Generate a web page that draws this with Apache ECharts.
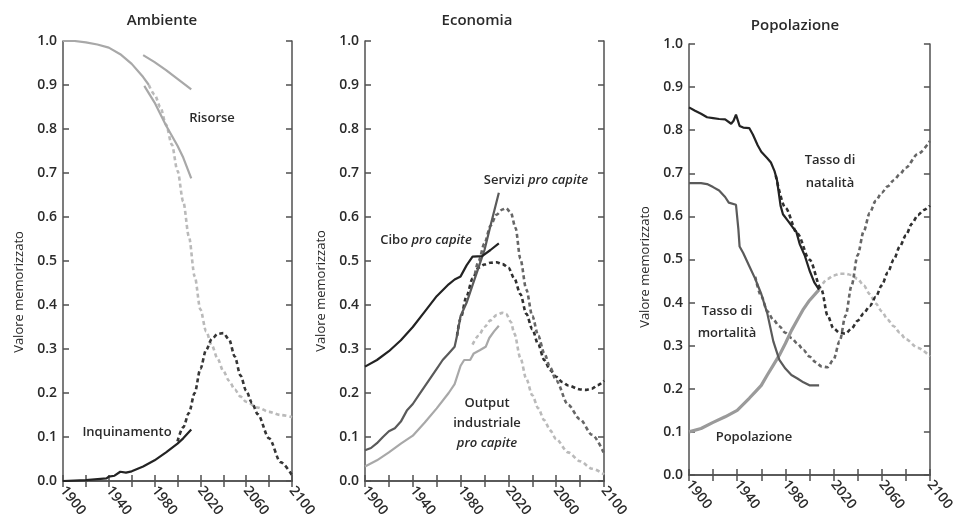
<!DOCTYPE html>
<html>
<head>
<meta charset="utf-8">
<script src="https://cdn.jsdelivr.net/npm/echarts@6/dist/echarts.min.js"></script>
<style>html,body{margin:0;padding:0;background:#fff}#c{width:957px;height:521px}</style>
</head>
<body>
<div id="c"></div>
<script>
// ---- Data ----
var panelTitles = ['Ambiente', 'Economia', 'Popolazione'];
var yTickLabels = ['0.0','0.1','0.2','0.3','0.4','0.5','0.6','0.7','0.8','0.9','1.0'];
var xLabelYears = [1900, 1940, 1980, 2020, 2060, 2100];

// Ambiente
var risorseModelHist = [[1900,1.0],[1910,1.0],[1920,0.997],[1930,0.992],[1940,0.985],[1950,0.97],[1960,0.948],[1970,0.918],[1975,0.9]];
var risorseModel = [[1975,0.9],[1980,0.878],[1985,0.85],[1990,0.81],[1995,0.765],[2000,0.705],[2005,0.635],[2010,0.555],[2015,0.465],[2020,0.39],[2025,0.34],[2030,0.308],[2035,0.278],[2040,0.25],[2045,0.228],[2050,0.208],[2055,0.192],[2060,0.18],[2070,0.167],[2080,0.157],[2090,0.15],[2100,0.145]];
var risorseData1 = [[1970,0.968],[1980,0.952],[1990,0.934],[2000,0.914],[2012,0.89]];
var risorseData2 = [[1971,0.898],[1980,0.86],[1990,0.808],[2000,0.762],[2005,0.735],[2012,0.688]];
var inquinamentoData = [[1900,0],[1920,0.002],[1938,0.006],[1940,0.01],[1945,0.012],[1950,0.021],[1955,0.019],[1960,0.022],[1970,0.033],[1980,0.047],[1990,0.065],[2000,0.085],[2005,0.097],[2012,0.117]];
var inquinamentoModel = [[2000,0.09],[2005,0.122],[2010,0.155],[2015,0.2],[2020,0.255],[2025,0.298],[2030,0.323],[2035,0.334],[2040,0.336],[2045,0.322],[2050,0.283],[2055,0.24],[2060,0.205],[2065,0.178],[2070,0.152],[2080,0.097],[2090,0.043],[2100,0.013]];

// Economia
var ciboData = [[1900,0.26],[1910,0.275],[1920,0.295],[1930,0.32],[1940,0.35],[1950,0.385],[1960,0.42],[1970,0.447],[1975,0.458],[1980,0.465],[1985,0.49],[1990,0.51],[1998,0.511],[2005,0.525],[2012,0.54]];
var ciboModel = [[1977,0.33],[1980,0.37],[1985,0.42],[1990,0.46],[1995,0.485],[2000,0.492],[2005,0.496],[2010,0.497],[2015,0.493],[2020,0.485],[2025,0.46],[2030,0.425],[2035,0.38],[2040,0.345],[2045,0.31],[2050,0.275],[2055,0.252],[2060,0.237],[2065,0.225],[2070,0.217],[2080,0.208],[2085,0.207],[2090,0.21],[2095,0.218],[2100,0.228]];
var serviziData = [[1900,0.07],[1905,0.075],[1910,0.086],[1915,0.1],[1920,0.113],[1925,0.12],[1930,0.135],[1935,0.16],[1940,0.175],[1945,0.195],[1950,0.215],[1955,0.235],[1960,0.255],[1965,0.275],[1970,0.29],[1975,0.305],[1977,0.33],[1980,0.375],[1985,0.405],[1990,0.445],[1995,0.485],[2000,0.525],[2005,0.58],[2012,0.655]];
var serviziModel = [[1992,0.47],[1995,0.5],[2000,0.54],[2005,0.58],[2010,0.605],[2015,0.617],[2018,0.62],[2022,0.61],[2026,0.575],[2030,0.505],[2035,0.435],[2040,0.375],[2045,0.33],[2050,0.29],[2055,0.258],[2060,0.228],[2070,0.173],[2080,0.14],[2090,0.105],[2100,0.063]];
var outputData = [[1900,0.033],[1910,0.047],[1920,0.065],[1930,0.085],[1940,0.103],[1950,0.133],[1960,0.165],[1970,0.2],[1975,0.22],[1980,0.262],[1983,0.275],[1988,0.275],[1991,0.29],[1996,0.297],[2001,0.305],[2004,0.325],[2008,0.34],[2012,0.353]];
var outputModel = [[1990,0.31],[1995,0.33],[2000,0.35],[2005,0.365],[2010,0.377],[2015,0.382],[2018,0.38],[2022,0.362],[2025,0.335],[2030,0.28],[2035,0.232],[2040,0.195],[2045,0.165],[2050,0.138],[2055,0.115],[2060,0.095],[2070,0.065],[2080,0.045],[2090,0.028],[2100,0.015]];

// Popolazione
var natalitaData = [[1900,0.853],[1905,0.845],[1910,0.838],[1915,0.83],[1920,0.828],[1925,0.826],[1930,0.825],[1935,0.815],[1937,0.822],[1939,0.836],[1942,0.81],[1945,0.806],[1950,0.805],[1953,0.79],[1957,0.765],[1960,0.75],[1965,0.735],[1968,0.725],[1971,0.705],[1973,0.685],[1976,0.625],[1978,0.605],[1982,0.59],[1986,0.575],[1989,0.565],[1992,0.535],[1996,0.51],[2000,0.475],[2004,0.447],[2008,0.43]];
var natalitaModel = [[1972,0.695],[1980,0.62],[1990,0.56],[2000,0.5],[2010,0.43],[2015,0.37],[2020,0.34],[2025,0.33],[2030,0.328],[2035,0.34],[2040,0.358],[2045,0.375],[2050,0.392],[2055,0.413],[2060,0.44],[2065,0.47],[2070,0.5],[2075,0.53],[2080,0.556],[2085,0.583],[2090,0.603],[2095,0.615],[2100,0.625]];
var mortalitaData = [[1900,0.677],[1910,0.677],[1915,0.675],[1920,0.668],[1925,0.66],[1930,0.645],[1933,0.632],[1939,0.627],[1941,0.57],[1942,0.53],[1945,0.515],[1950,0.485],[1955,0.455],[1960,0.42],[1965,0.375],[1970,0.31],[1975,0.267],[1980,0.247],[1985,0.232],[1990,0.224],[1995,0.215],[2000,0.208],[2008,0.208]];
var mortalitaModel = [[1955,0.46],[1960,0.415],[1965,0.38],[1970,0.36],[1975,0.345],[1980,0.33],[1985,0.318],[1990,0.305],[1995,0.29],[2000,0.275],[2005,0.262],[2010,0.252],[2015,0.25],[2020,0.268],[2025,0.31],[2030,0.37],[2035,0.44],[2040,0.51],[2045,0.565],[2050,0.608],[2055,0.636],[2060,0.655],[2065,0.67],[2070,0.684],[2075,0.698],[2080,0.713],[2090,0.745],[2100,0.775]];
var popolazioneData = [[1900,0.1],[1910,0.108],[1920,0.122],[1930,0.135],[1940,0.15],[1950,0.178],[1955,0.193],[1960,0.208],[1965,0.232],[1970,0.255],[1975,0.278],[1980,0.305],[1985,0.335],[1990,0.36],[1995,0.385],[2000,0.405],[2008,0.43]];
var popolazioneModel = [[2008,0.43],[2015,0.455],[2020,0.463],[2025,0.467],[2030,0.467],[2035,0.464],[2040,0.455],[2045,0.44],[2050,0.42],[2055,0.398],[2060,0.38],[2065,0.36],[2070,0.345],[2075,0.33],[2080,0.315],[2090,0.295],[2100,0.275]];

// ---- Chart ----
var FONT = '"Open Sans", "Noto Sans", sans-serif';
var DARK = '#232323', MID = '#5a5a5a', LIGHT = '#a8a8a8', LIGHTD = '#bababa', TXT = '#2a2a2a', AX = '#505050';

var grids = [
  {left: 63, top: 41, width: 229, height: 440},
  {left: 365, top: 41, width: 239, height: 440},
  {left: 689, top: 44, width: 241, height: 431}
];

var xAxes = [], yAxes = [];
grids.forEach(function (g, i) {
  var base = {
    type: 'value', gridIndex: i, min: 1900, max: 2100, interval: 20,
    axisLine: {show: true, lineStyle: {color: AX, width: 1.5}},
    axisTick: {show: true, inside: true, length: 6, lineStyle: {color: AX, width: 1.5}},
    splitLine: {show: false}
  };
  xAxes.push(Object.assign({}, base, {
    position: 'bottom',
    axisLabel: {
      show: true, rotate: -52, margin: 7, color: TXT, fontFamily: FONT, fontSize: 14, fontWeight: 600,
      formatter: function (v) { return xLabelYears.indexOf(v) >= 0 ? String(v) : ''; }
    }
  }));
  xAxes.push(Object.assign({}, base, {position: 'top', axisLabel: {show: false}}));
  var ybase = {
    type: 'value', gridIndex: i, min: 0, max: 1, interval: 0.1,
    axisLine: {show: true, lineStyle: {color: AX, width: 1.5}},
    axisTick: {show: true, inside: true, length: 6, lineStyle: {color: AX, width: 1.5}},
    splitLine: {show: false}
  };
  yAxes.push(Object.assign({}, ybase, {
    position: 'left',
    axisLabel: {show: true, margin: 6, color: TXT, fontFamily: FONT, fontSize: 14, fontWeight: 600,
      formatter: function (v) { return yTickLabels[Math.round(v * 10)]; }}
  }));
  yAxes.push(Object.assign({}, ybase, {position: 'right', axisLabel: {show: false}}));
});

function line(data, gi, color, width, dashed, z) {
  return {
    type: 'line', data: data, xAxisIndex: gi * 2, yAxisIndex: gi * 2,
    showSymbol: false, symbol: 'none', smooth: dashed ? 0.3 : false, smoothMonotone: 'x',
    silent: true, z: z || 2,
    lineStyle: {color: color, width: width, type: dashed ? [4, 3] : 'solid'}
  };
}

var series = [
  line(risorseModelHist, 0, LIGHT, 2.2, false),
  line(risorseModel, 0, LIGHTD, 2.6, true),
  line(risorseData1, 0, LIGHT, 2.2, false),
  line(risorseData2, 0, LIGHT, 2.2, false),
  line(inquinamentoModel, 0, '#363636', 2.6, true),
  line(inquinamentoData, 0, DARK, 2.2, false, 3),

  line(outputModel, 1, LIGHTD, 2.6, true),
  line(outputData, 1, LIGHT, 2.2, false),
  line(ciboModel, 1, '#303030', 2.6, true),
  line(serviziModel, 1, '#666', 2.6, true),
  line(serviziData, 1, MID, 2.2, false, 3),
  line(ciboData, 1, DARK, 2.2, false, 4),

  line(popolazioneModel, 2, LIGHTD, 2.6, true),
  line(mortalitaModel, 2, '#666', 2.6, true),
  line(natalitaModel, 2, '#303030', 2.6, true),
  line(popolazioneData, 2, '#9a9a9a', 3.2, false),
  line(mortalitaData, 2, MID, 2.2, false, 3),
  line(natalitaData, 2, DARK, 2.2, false, 4)
];

function txt(x, y, text, size, extra) {
  return {
    type: 'text', x: x, y: y, silent: true, z: 10,
    style: Object.assign({text: text, fontFamily: FONT, fontSize: size, fontWeight: 600, fill: TXT, align: 'center', verticalAlign: 'middle'}, extra || {})
  };
}
function rot(x, y, text) {
  var t = txt(x, y, text, 13, {fontWeight: 'normal'});
  t.rotation = Math.PI / 2;
  return t;
}
var italicRich = {
  n: {fontFamily: FONT, fontSize: 13, fontWeight: 600, fill: TXT, color: TXT},
  i: {fontFamily: FONT, fontSize: 13, fontWeight: 600, fontStyle: 'italic', fill: TXT, color: TXT}
};

var graphics = [
  txt(162, 21, panelTitles[0], 15),
  txt(477, 21, panelTitles[1], 15),
  txt(795, 26, panelTitles[2], 15),
  rot(19, 292, 'Valore memorizzato'),
  rot(321, 291, 'Valore memorizzato'),
  rot(645, 267, 'Valore memorizzato'),
  txt(212, 118, 'Risorse', 13),
  txt(127, 432, 'Inquinamento', 13),
  txt(536, 180, '{n|Servizi }{i|pro capite}', 13, {rich: italicRich}),
  txt(426, 240, '{n|Cibo }{i|pro capite}', 13, {rich: italicRich}),
  txt(487, 403, 'Output', 13),
  txt(487, 423, 'industriale', 13),
  txt(487, 443, '{i|pro capite}', 13, {rich: italicRich}),
  txt(830, 160, 'Tasso di', 13),
  txt(830, 183, 'natalità', 13),
  txt(727, 311, 'Tasso di', 13),
  txt(727, 333, 'mortalità', 13),
  txt(754, 437, 'Popolazione', 13)
];

var chart = echarts.init(document.getElementById('c'), null, {renderer: 'canvas'});
chart.setOption({
  animation: false,
  backgroundColor: '#fff',
  grid: grids,
  xAxis: xAxes,
  yAxis: yAxes,
  series: series,
  graphic: graphics
});
</script>
</body>
</html>
